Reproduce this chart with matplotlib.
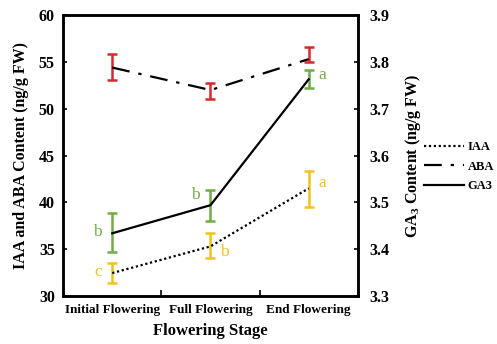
import matplotlib
matplotlib.use("Agg")
import matplotlib.pyplot as plt
import numpy as np

stages = ["Initial Flowering", "Full Flowering", "End Flowering"]
iaa = [32.45, 35.3, 41.5]
iaa_lo = [1.05, 1.2, 2.0]
iaa_hi = [1.05, 1.4, 1.9]
iaa_letters = ["c", "b", "a"]
aba = [54.4, 52.0, 55.3]
aba_lo = [1.35, 1.0, 0.3]
aba_hi = [1.5, 0.75, 1.3]
ga3 = [3.434, 3.494, 3.763]
ga3_lo = [0.04, 0.034, 0.019]
ga3_hi = [0.043, 0.032, 0.02]
ga3_letters = ["b", "b", "a"]

plt.rcParams['font.family'] = ['Liberation Serif', 'DejaVu Serif']
plt.rcParams['mathtext.fontset'] = 'custom'
plt.rcParams['mathtext.rm'] = 'Liberation Serif:bold'
plt.rcParams['mathtext.bf'] = 'Liberation Serif:bold'

red = "#d9282c"
green = "#70ad47"
yellow = "#f2c21b"

fig = plt.figure(figsize=(4.97, 3.44), dpi=100)
ax = fig.add_axes([0.127, 0.1395, 0.593, 0.8165])
ax2 = ax.twinx()

x = np.arange(len(stages)) + 0.5

ax.errorbar(x, iaa, yerr=[iaa_lo, iaa_hi], fmt='none', ecolor=yellow, elinewidth=1.8, capsize=3.5, capthick=1.8, zorder=2)
ax.plot(x, iaa, color='black', linestyle=(0, (1, 1.2)), lw=1.6, zorder=3)
ax.errorbar(x, aba, yerr=[aba_lo, aba_hi], fmt='none', ecolor=red, elinewidth=1.8, capsize=3.5, capthick=1.8, zorder=2)
ax.plot(x, aba, color='black', linestyle=(0, (8, 4, 1.5, 4)), lw=1.6, zorder=3)
ax2.errorbar(x, ga3, yerr=[ga3_lo, ga3_hi], fmt='none', ecolor=green, elinewidth=1.8, capsize=3.5, capthick=1.8, zorder=2)
ax2.plot(x, ga3, color='black', linestyle='-', lw=1.6, zorder=3)

# letters
iaa_off = [(-10, 1), (10, -4), (10, 4)]
for xi, yi, t, o in zip(x, iaa, iaa_letters, iaa_off):
    ax.annotate(t, (xi, yi), xytext=o, textcoords='offset points', color=yellow,
                ha='center', va='center', fontsize=12.5)
ga3_off = [(-11, 1), (-11, 7), (10, 3)]
for xi, yi, t, o in zip(x, ga3, ga3_letters, ga3_off):
    ax2.annotate(t, (xi, yi), xytext=o, textcoords='offset points', color=green,
                 ha='center', va='center', fontsize=12.5)

ax.set_xlim(0, 3)
ax.set_ylim(30, 60)
ax.set_yticks(np.arange(30, 61, 5))
ax.set_xticks([1, 2])
ax.set_xticklabels([])
ax.set_xticks(x, minor=True)
ax.set_xticklabels(stages, minor=True, fontsize=9.5, fontweight='bold')
ax.tick_params(axis='x', which='minor', length=0, pad=6)
ax.tick_params(axis='x', which='major', direction='in', length=4, width=1.2)
ax.tick_params(axis='y', direction='in', length=3, width=1.2, labelsize=11.5, pad=6)
for lab in ax.get_yticklabels():
    lab.set_fontweight('bold')

ax2.set_ylim(3.3, 3.9)
ax2.set_yticks(np.round(np.arange(3.3, 3.91, 0.1), 1))
ax2.set_yticklabels([f"{v:.1f}" for v in np.arange(3.3, 3.91, 0.1)])
ax2.tick_params(axis='y', direction='in', length=3, width=1.2, labelsize=11.5, pad=8)
for lab in ax2.get_yticklabels():
    lab.set_fontweight('bold')

for a in (ax, ax2):
    for s in a.spines.values():
        s.set_linewidth(1.8)

ax.set_xlabel("Flowering Stage", fontsize=12, fontweight='bold', labelpad=5)
ax.set_ylabel("IAA and ABA Content (ng/g FW)", fontsize=11.5, fontweight='bold', labelpad=7)
ax2.set_ylabel(r"GA$_3$ Content (ng/g FW)", fontsize=11.5, fontweight='bold', labelpad=10)

h1, = ax.plot([], [], color='black', linestyle=(0, (1, 1.2)), lw=1.6)
h2, = ax.plot([], [], color='black', linestyle=(0, (8, 4, 1.5, 4)), lw=1.6)
h3, = ax.plot([], [], color='black', linestyle='-', lw=1.6)
leg = fig.legend([h1, h2, h3], ["IAA", "ABA", "GA3"], loc='center left',
                 bbox_to_anchor=(0.83, 0.515), frameon=False, handlelength=3.2,
                 handletextpad=0.3, labelspacing=0.6,
                 prop={'family': 'Liberation Serif', 'weight': 'bold', 'size': 9})

fig.savefig("out.png", dpi=100)
